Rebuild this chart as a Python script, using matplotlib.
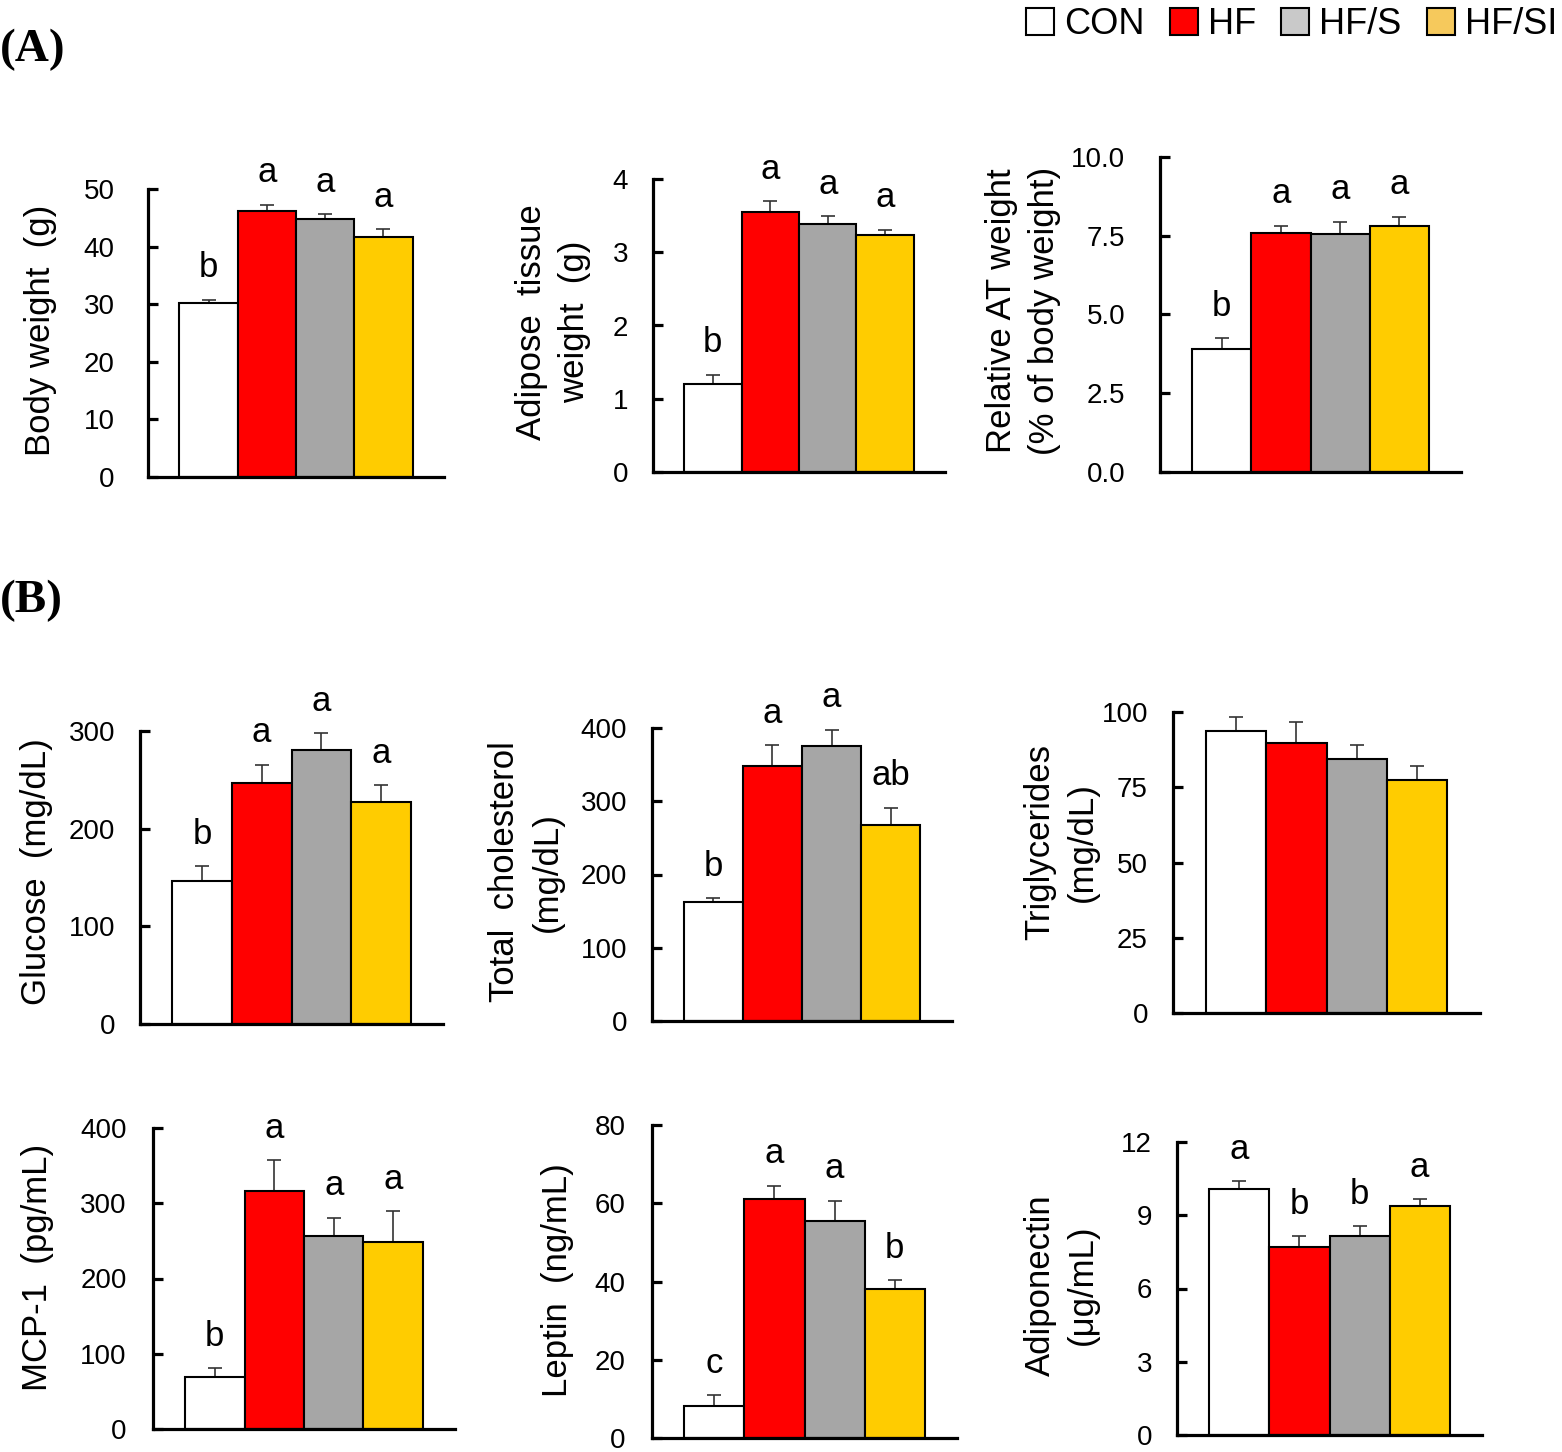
import matplotlib
matplotlib.use("Agg")
import matplotlib.pyplot as plt
from matplotlib.patches import Patch

plt.rcParams['font.family'] = ['Liberation Sans', 'DejaVu Sans']

# Groups and colours
groups = ['CON', 'HF', 'HF/S', 'HF/SI']
bar_colors = ['#ffffff', '#ff0000', '#a6a6a6', '#ffcc00']
legend_colors = ['#ffffff', '#ff0000', '#c9c9c9', '#f6c95c']

# (A) body / adipose tissue weights
body_weight = [30.2, 46.2, 44.8, 41.7]
body_weight_err = [0.6, 1.1, 0.9, 1.3]
body_weight_sig = ['b', 'a', 'a', 'a']

adipose_weight = [1.20, 3.55, 3.38, 3.24]
adipose_weight_err = [0.13, 0.15, 0.11, 0.07]
adipose_weight_sig = ['b', 'a', 'a', 'a']

relative_at = [3.89, 7.59, 7.55, 7.80]
relative_at_err = [0.36, 0.23, 0.40, 0.31]
relative_at_sig = ['b', 'a', 'a', 'a']

# (B) serum parameters
glucose = [146.7, 247.2, 280.9, 227.8]
glucose_err = [15.0, 18.4, 17.0, 16.6]
glucose_sig = ['b', 'a', 'a', 'a']

cholesterol = [163.0, 347.7, 375.5, 267.2]
cholesterol_err = [4.5, 28.7, 22.3, 24.1]
cholesterol_sig = ['b', 'a', 'a', 'ab']

triglycerides = [93.7, 89.7, 84.3, 77.3]
triglycerides_err = [4.7, 6.9, 4.7, 4.9]
triglycerides_sig = ['', '', '', '']

mcp1 = [69.1, 315.7, 256.9, 248.0]
mcp1_err = [11.9, 41.3, 23.9, 41.7]
mcp1_sig = ['b', 'a', 'a', 'a']

leptin = [8.1, 61.0, 55.4, 38.1]
leptin_err = [2.8, 3.5, 5.3, 2.2]
leptin_sig = ['c', 'a', 'a', 'b']

adiponectin = [10.09, 7.70, 8.15, 9.36]
adiponectin_err = [0.31, 0.43, 0.40, 0.30]
adiponectin_sig = ['a', 'b', 'b', 'a']

W, H = 1562, 1452
fig = plt.figure(figsize=(W / 100, H / 100), dpi=100)


def px_axes(x0, x1, ytop, ybot):
    return fig.add_axes([x0 / W, 1 - ybot / H, (x1 - x0) / W, (ybot - ytop) / H])


# panel: data, err, letters, ylabel, ticks, tick format, rect (px), label centre (px), tick pad
panels = [
    (body_weight, body_weight_err, body_weight_sig, 'Body weight  (g)',
     [0, 10, 20, 30, 40, 50], '{:g}', (148, 444, 189, 477), (41, 330), 24),
    (adipose_weight, adipose_weight_err, adipose_weight_sig, 'Adipose  tissue\nweight  (g)',
     [0, 1, 2, 3, 4], '{:g}', (653, 945, 179, 472), (553, 322), 18),
    (relative_at, relative_at_err, relative_at_sig, 'Relative AT weight\n(% of body weight)',
     [0, 2.5, 5, 7.5, 10], '{:.1f}', (1160, 1461, 157, 472), (1023, 311), 25),
    (glucose, glucose_err, glucose_sig, 'Glucose  (mg/dL)',
     [0, 100, 200, 300], '{:g}', (140, 443, 731, 1024), (37, 872), 18),
    (cholesterol, cholesterol_err, cholesterol_sig, 'Total  cholesterol\n(mg/dL)',
     [0, 100, 200, 300, 400], '{:g}', (652, 952, 728, 1021), (526, 872), 18),
    (triglycerides, triglycerides_err, triglycerides_sig, 'Triglycerides\n(mg/dL)',
     [0, 25, 50, 75, 100], '{:g}', (1173, 1480, 712, 1013), (1061, 842), 18),
    (mcp1, mcp1_err, mcp1_sig, 'MCP-1  (pg/mL)',
     [0, 100, 200, 300, 400], '{:g}', (153, 455, 1128, 1429), (38, 1267), 19),
    (leptin, leptin_err, leptin_sig, 'Leptin  (ng/mL)',
     [0, 20, 40, 60, 80], '{:g}', (652, 957, 1125, 1438), (558, 1280), 19),
    (adiponectin, adiponectin_err, adiponectin_sig, 'Adiponectin\n(\u03bcg/mL)',
     [0, 3, 6, 9, 12], '{:g}', (1177, 1482, 1142, 1435), (1061, 1285), 18),
]

x = list(range(len(groups)))
for values, errs, sig, ylabel, ticks, fmt, rect, lab, pad in panels:
    ax = px_axes(*rect)
    ax.bar(x, values, width=1.0, color=bar_colors, edgecolor='black', linewidth=1.5, zorder=2)
    ax.errorbar(x, values, yerr=[[0] * len(errs), errs], fmt='none', ecolor='#333333',
                elinewidth=1.2, capsize=5, capthick=1.2, zorder=1)
    for xi, v, e, s in zip(x, values, errs, sig):
        if s:
            ax.annotate(s, (xi, v + e), xytext=(0, 16), textcoords='offset points',
                        ha='center', va='baseline', fontsize=25, annotation_clip=False)
    ax.set_xlim(-1.04, len(groups) + 0.04)
    ax.set_ylim(0, ticks[-1])
    ax.set_yticks(ticks)
    ax.set_yticklabels([fmt.format(t) for t in ticks])
    ax.set_xticks([])
    ax.spines['top'].set_visible(False)
    ax.spines['right'].set_visible(False)
    ax.spines['left'].set_linewidth(2.3)
    ax.spines['bottom'].set_linewidth(2.3)
    ax.tick_params(axis='y', direction='in', length=7, width=2.3, labelsize=20, pad=pad)
    fig.text(lab[0] / W, 1 - lab[1] / H, ylabel, rotation=90, rotation_mode='anchor',
             ha='center', va='center', multialignment='center', fontsize=25, linespacing=1.35)

# panel letters
fig.text(0.0, 1 - 61 / H, '(A)', fontsize=34, fontweight='bold', family='Liberation Serif',
         ha='left', va='baseline')
fig.text(0.0, 1 - 612 / H, '(B)', fontsize=34, fontweight='bold', family='Liberation Serif',
         ha='left', va='baseline')

handles = [Patch(facecolor=c, edgecolor='black', linewidth=1.5) for c in legend_colors]
fig.legend(handles, groups, loc='upper right', bbox_to_anchor=(1557 / W, 1 - 7 / H), ncol=4,
           frameon=False, fontsize=26, handlelength=0.77, handleheight=0.77,
           handletextpad=0.28, columnspacing=0.7, borderpad=0, borderaxespad=0)

fig.savefig('out.png', dpi=100)
